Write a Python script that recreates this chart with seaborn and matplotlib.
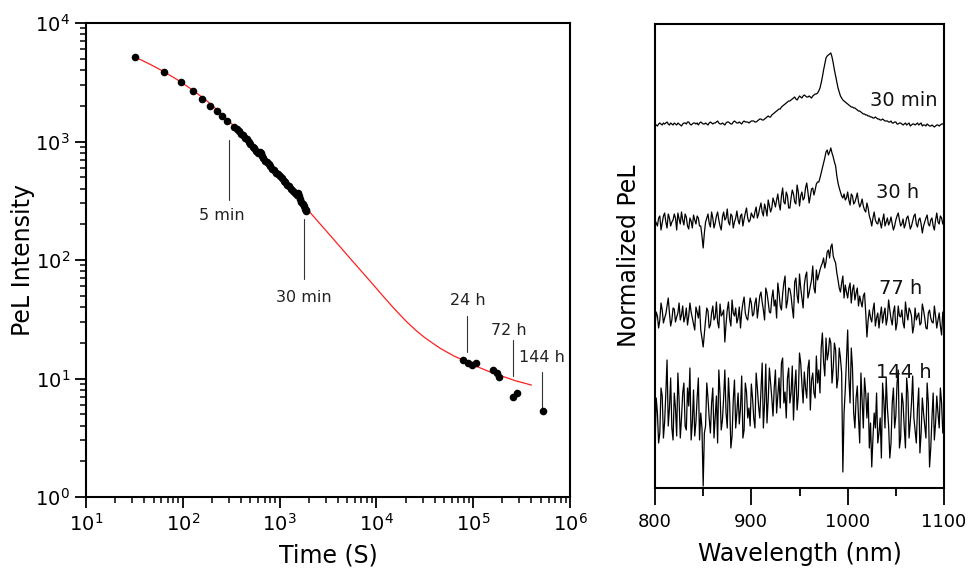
import numpy as np
import pandas as pd
import matplotlib
matplotlib.use("Agg")
import matplotlib.pyplot as plt
from matplotlib.ticker import LogLocator, MultipleLocator, NullFormatter
import seaborn as sns

# ---------------- Left panel data: PeL decay ----------------
time_s = [32, 64, 96, 128, 159, 191, 225, 256, 288,
          340, 360, 380, 400, 420, 440, 460, 480, 500, 525, 550, 575, 600, 625, 640,
          660, 680, 710, 740, 770, 800, 840, 880, 920, 960, 1000, 1050, 1100, 1150,
          1200, 1260, 1320, 1380, 1440, 1500, 1540, 1560, 1580, 1620, 1680, 1740,
          1800, 1840, 1870, 1890,
          79000, 89000, 96600, 107000,
          161000, 177000, 186000,
          256000, 281000,
          530000]
intensity = [5170, 3860, 3160, 2655, 2270, 1995, 1800, 1635, 1500,
             1320, 1270, 1230, 1160, 1130, 1075, 1045, 995, 955, 905, 875, 835, 800, 815, 800,
             760, 725, 690, 668, 640, 622, 590, 570, 542, 528, 508, 495, 468, 455,
             432, 418, 395, 385, 365, 352, 360, 368, 350, 325, 310, 298,
             285, 272, 262, 258,
             14.3, 13.5, 12.9, 13.4,
             11.9, 11.1, 10.3,
             6.98, 7.55,
             5.3]

fit_t = [32, 45, 64, 90, 128, 180, 256, 360, 500, 700, 1000, 1400, 1900, 2700,
         3600, 5000, 8000, 10000, 12000, 14500, 17500, 21000, 26000, 31000, 38700,
         46000, 55000, 63000, 73000, 85000, 100000, 140000, 190000, 270000, 400000]
fit_I = [5170, 4520, 3880, 3280, 2700, 2180, 1690, 1280, 960, 710, 515, 378, 272, 196,
         150, 110, 71, 57.6, 48.5, 40.7, 34.5, 29.6, 25.2, 22.4, 19.7,
         17.9, 16.5, 15.5, 14.7, 13.8, 13.0, 11.6, 10.6, 9.6, 8.8]

ann_labels = ["5 min", "30 min", "24 h", "72 h", "144 h"]
ann_x = [300, 1800, 86400, 259200, 518400]
ann_line_top = [1038, 223, 33.5, 21, 11.4]
ann_line_bot = [324, 69.7, 16.7, 10.4, 5.6]
ann_text_x = [252, 1800, 89000, 231000, 509000]
ann_text_y = [238, 48, 45.7, 25.5, 15]

# ---------------- Right panel data: normalized spectra (stacked, 800-1100 nm) ----------------
spec_labels = ["30 min", "30 h", "77 h", "144 h"]
# readings every 2.5 nm
spec_30min = [364,362,365,363,364,366,363,364,365,363,364,362,365,364,366,363,365,364,363,366,
              364,365,363,366,364,365,367,364,365,363,366,365,364,367,365,366,364,367,366,365,367,
              367,366,368,369,368,370,372,371,374,376,378,379,382,384,386,387,
              389,391,388,392,390,393,391,392,390,393,394,
              397,405,418,430,433,435,425,412,400,392,388,
              386,384,382,381,380,378,377,375,374,373,372,371,370,370,369,368,368,367,366,367,
              365,366,364,365,363,365,364,362,364,363,365,364,362,363,364,362,363,361,363,362,364,365]
# readings half-way between the ones above
spec_30min_mid = [363,364,364,365,365,364,365,363,364,365,363,364,365,366,364,364,365,365,365,365,
                  364,364,365,365,365,366,365,364,364,365,366,364,366,366,365,365,366,366,366,366,
                  367,
                  366,367,369,368,369,371,371,373,375,377,379,381,383,385,387,388,390,389,390,391,
                  392,392,391,391,392,394,
                  395,
                  400,411,424,432,434,431,418,406,396,
                  390, 387,
                  385,383,381,380,379,377,376,374,373,
                  372,
                  371,370,371,369,368,369,367,367,366,365,366,364,365,364,364,363,365,363,364,364,
                  363,365,363,362,363,362,362,362,363,363,364]
spec_30h = [268,262,272,265,275,260,270,266,274,258,269,276,263,271,259,267,273,264,270,262,
            240,266,274,261,270,265,276,262,271,268,279,263,272,266,277,264,274,269,280,266,275,
            270,281,274,285,272,279,288,276,290,281,294,278,300,284,292,280,298,286,303,282,296,
            290,305,285,299,293,304,
            306,315,325,336,333,340,331,322,305,296,290,
            288,296,283,292,286,295,281,289,278,285,
            272,262,276,265,270,260,274,266,263,271,258,268,275,262,269,264,272,259,267,274,261,
            270,255,266,273,262,270,258,275,264,270,268]
spec_30h_mid = [265,270,258,272,266,274,262,268,270,275,264,268,274,262,270,260,268,272,262,252,
                255,270,265,276,260,272,268,258,276,270,266,274,260,270,268,272,262,275,270,268,
                272,
                276,270,280,276,284,272,282,280,286,288,284,292,286,296,280,290,294,284,296,292,
                288,300,296,292,300,298,
                306,
                310,320,330,338,336,335,326,312,300,
                292, 294,
                290,288,294,284,290,286,284,282,276,
                280,
                268,270,268,264,266,268,262,270,266,264,262,272,268,264,260,270,266,262,272,264,
                268,264,262,270,264,268,262,268,266,272,264]
spec_77h = [162,172,168,178,170,182,175,168,179,171,185,173,166,180,172,176,164,181,170,158,
            141,168,177,163,182,171,166,184,174,146,178,169,188,172,165,181,176,191,170,179,185,
            174,190,181,196,178,200,186,175,198,188,205,182,194,212,187,199,180,206,193,214,190,
            203,216,195,208,200,218,
            213,222,230,226,238,241,232,225,208,196,212,
            203,190,205,198,188,200,192,181,195,151,
            178,166,185,170,160,181,174,163,188,169,176,158,182,171,165,186,168,177,155,180,172,
            163,184,170,159,178,166,182,160,175,153,170]
spec_77h_mid = [176,160,185,165,174,190,162,180,166,175,168,182,171,163,185,170,158,176,182,150,
                155,180,160,175,168,186,160,172,178,164,186,162,175,180,170,160,185,175,168,190,
                172,
                185,170,192,186,168,195,176,190,182,170,195,178,205,180,200,192,170,210,185,200,
                180,212,190,202,222,195,
                208,
                218,225,220,236,230,244,228,215,200,
                205, 190,
                196,200,185,203,195,182,186,192,175,
                168,
                170,178,162,175,172,165,180,170,178,163,182,165,172,178,160,175,180,172,162,168,
                175,165,178,160,175,170,165,172,168,162,176]
spec_144h = [40,75,55,92,66,128,80,60,95,52,88,70,105,58,82,48,98,66,110,75,
             2,62,90,55,100,72,45,95,68,118,60,85,52,108,76,64,112,58,96,80,104,
             70,115,82,98,60,124,88,105,72,118,92,80,130,96,110,85,122,100,78,135,104,
             116,90,128,108,95,132,
             118,140,126,150,135,145,120,138,110,130,16,
             98,158,85,120,60,102,45,88,110,70,
             40,21,75,95,55,30,88,110,62,45,100,72,118,50,85,40,95,66,112,58,80,35,
             90,62,105,21,70,48,92,60,85,72]
spec_144h_mid = [90,45,100,50,95,62,110,48,80,115,50,95,62,100,120,65,52,90,48,60,
                 55,105,70,85,50,92,118,58,90,75,110,40,88,60,95,80,50,105,70,62,
                 90,
                 60,100,70,125,85,65,120,90,100,75,110,125,85,70,120,95,68,118,92,125,
                 85,100,120,78,115,90,
                 105,
                 95,155,112,128,150,105,145,100,140,
                 115, 75,
                 128,110,140,75,90,70,115,60,95,
                 95,
                 65,50,60,45,70,105,60,80,30,85,60,105,40,95,60,110,50,85,70,45,
                 100,55,75,50,85,40,95,65,75,100,55]
spectra = [(spec_30min, spec_30min_mid), (spec_30h, spec_30h_mid),
           (spec_77h, spec_77h_mid), (spec_144h, spec_144h_mid)]
label_wl = [1058, 1052, 1055, 1058]
label_h = [388, 295, 200, 116]

# ---------------- Figure ----------------
sns.set_theme(style="ticks")
plt.rcParams['font.family'] = ['DejaVu Sans']
plt.rcParams['mathtext.fontset'] = 'dejavusans'
plt.rcParams['text.color'] = 'black'
plt.rcParams['axes.labelcolor'] = 'black'

fig = plt.figure(figsize=(9.7, 5.73), dpi=100)
axL = fig.add_axes([86/970, 1-497/573, 484/970, 474/573])
axR = fig.add_axes([655/970, 1-488/573, 289/970, 464/573])

# Left panel
df_fit = pd.DataFrame({"t": fit_t, "I": fit_I})
df_pts = pd.DataFrame({"t": time_s, "I": intensity})
sns.lineplot(data=df_fit, x="t", y="I", ax=axL, color="#ff2020", lw=0.9,
             estimator=None, sort=False)
sns.scatterplot(data=df_pts, x="t", y="I", ax=axL, color="black", s=30,
                edgecolor="black", linewidth=0, zorder=3)
axL.set_xscale("log")
axL.set_yscale("log")
axL.set_xlim(10, 1e6)
axL.set_ylim(1, 1e4)
for i, lab in enumerate(ann_labels):
    axL.plot([ann_x[i], ann_x[i]], [ann_line_bot[i], ann_line_top[i]],
             color="#333333", lw=0.8)
    axL.text(ann_text_x[i], ann_text_y[i], lab, ha="center", va="center",
             fontsize=11.5, color="#222222")
axL.xaxis.set_major_locator(LogLocator(base=10, numticks=10))
axL.xaxis.set_minor_locator(LogLocator(base=10, subs=np.arange(2, 10), numticks=20))
axL.yaxis.set_major_locator(LogLocator(base=10, numticks=10))
axL.yaxis.set_minor_locator(LogLocator(base=10, subs=np.arange(2, 10), numticks=20))
axL.xaxis.set_minor_formatter(NullFormatter())
axL.yaxis.set_minor_formatter(NullFormatter())
axL.tick_params(axis="both", which="major", direction="out", length=8, width=1.3,
                labelsize=14, color="black", labelcolor="black")
axL.tick_params(axis="both", which="minor", direction="out", length=4, width=1.1,
                color="black")
axL.tick_params(top=False, right=False, which="both")
axL.set_xlabel("Time (S)", fontsize=17, labelpad=6)
axL.set_ylabel("PeL Intensity", fontsize=17, labelpad=0)
for sp in axL.spines.values():
    sp.set_linewidth(1.5)
    sp.set_color("black")
    sp.set_visible(True)

# Right panel
for (main, mid), lab, lx, ly in zip(spectra, spec_labels, label_wl, label_h):
    vals = np.empty(len(main) + len(mid))
    vals[0::2] = main
    vals[1::2] = mid
    d = pd.DataFrame({"wl": np.linspace(800, 1100, len(vals)), "v": vals})
    sns.lineplot(data=d, x="wl", y="v", ax=axR, color="black", lw=0.9,
                 estimator=None, sort=False)
    axR.text(lx, ly, lab, ha="center", va="center", fontsize=14, color="#111111")
axR.set_xlim(800, 1100)
axR.set_ylim(0, 464)
axR.xaxis.set_major_locator(MultipleLocator(100))
axR.xaxis.set_minor_locator(MultipleLocator(50))
axR.set_yticks([])
axR.tick_params(axis="x", which="major", direction="out", length=12, width=1.3,
                labelsize=13, color="black", labelcolor="black", pad=6)
axR.tick_params(axis="x", which="minor", direction="out", length=6, width=1.3,
                color="black")
axR.set_xlabel("Wavelength (nm)", fontsize=17, labelpad=8)
axR.set_ylabel("Normalized PeL", fontsize=17, labelpad=10)
for sp in axR.spines.values():
    sp.set_linewidth(1.5)
    sp.set_color("black")
    sp.set_visible(True)

fig.savefig("out.png", dpi=100)
